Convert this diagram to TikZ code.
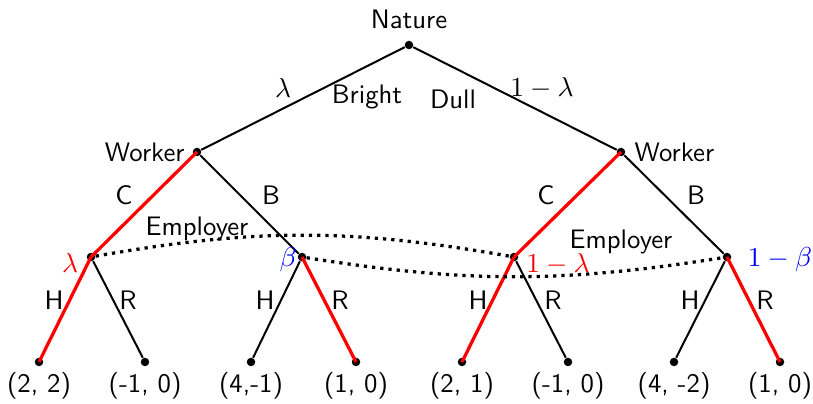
\documentclass[tikz,border=0pt]{standalone}
\usepackage{tikz}
\begin{document}
\begin{tikzpicture}[x=0.4pt,y=-0.4pt,
  font=\sffamily\fontsize{10.7}{12}\selectfont,
  dot/.style={circle,fill=black,inner sep=0pt,minimum size=3.4pt},
  edge/.style={line width=0.8pt,black},
  redge/.style={line width=1.3pt,red},
  info/.style={line width=1.3pt,dotted},
  txt/.style={inner sep=0pt},
  mtxt/.style={inner sep=0pt,font=\fontsize{11.4}{13}\selectfont}]
\useasboundingbox (0,0) rectangle (813,404);
% nodes
\node[dot] (n) at (409,45) {};
\node[dot] (w1) at (197,152) {};
\node[dot] (w2) at (621,152) {};
\node[dot] (e1) at (91,257) {};
\node[dot] (e2) at (302,257) {};
\node[dot] (e3) at (514,257) {};
\node[dot] (e4) at (727,257) {};
\foreach \i/\x in {1/39,2/145,3/251,4/356,5/462,6/568,7/674,8/780}
  \node[dot] (l\i) at (\x,362) {};
% edges
\draw[edge] (n) -- (w1);
\draw[edge] (n) -- (w2);
\draw[redge] (w1.center) -- (e1.center);
\draw[edge] (w1) -- (e2);
\draw[redge] (w2.center) -- (e3.center);
\draw[edge] (w2) -- (e4);
\draw[redge] (e1.center) -- (l1.center);
\draw[edge] (e1) -- (l2);
\draw[edge] (e2) -- (l3);
\draw[redge] (e2.center) -- (l4.center);
\draw[redge] (e3.center) -- (l5.center);
\draw[edge] (e3) -- (l6);
\draw[edge] (e4) -- (l7);
\draw[redge] (e4.center) -- (l8.center);
% information sets
\draw[info] (e1) to[bend left=10] (e3);
\draw[info] (e2) to[bend right=9] (e4);
% labels
\node[txt] (tn) at (409,19) {Nature};
\node[mtxt] (tl) at (283,88) {$\lambda$};
\node[txt] (tb) at (367,97) {Bright};
\node[txt] (td) at (453,99) {Dull};
\node[mtxt] (t1l) at (542,88) {$1-\lambda$};
\node[txt,anchor=east] (tw1) at (185,152) {Worker};
\node[txt,anchor=west] (tw2) at (634,152) {Worker};
\node[txt] (c1) at (124,195) {C};
\node[txt] (b1) at (271,195) {B};
\node[txt] (c2) at (546,195) {C};
\node[txt] (b2) at (696,195) {B};
\node[txt] (em1) at (197,229) {Employer};
\node[txt] (em2) at (621,242) {Employer};
\node[mtxt,red] (pl) at (70,263) {$\lambda$};
\node[mtxt,blue] (pb) at (288,260) {$\beta$};
\node[mtxt,red] (p1l) at (558,264) {$1-\lambda$};
\node[mtxt,blue] (p1b) at (780,260) {$1-\beta$};
\foreach \i/\x/\t in {1/54/H,2/128/R,3/265/H,4/340/R,5/478/H,6/553/R,7/690/H,8/765/R}
  \node[txt] (a\i) at (\x,300) {\t};
\foreach \i/\x/\t in {1/39/{(2, 2)},2/145/{(-1, 0)},3/251/{(4,-1)},4/356/{(1, 0)},5/462/{(2, 1)},6/568/{(-1, 0)},7/674/{(4, -2)},8/780/{(1, 0)}}
  \node[txt] (p\i) at (\x,386) {\t};
\end{tikzpicture}
\end{document}
